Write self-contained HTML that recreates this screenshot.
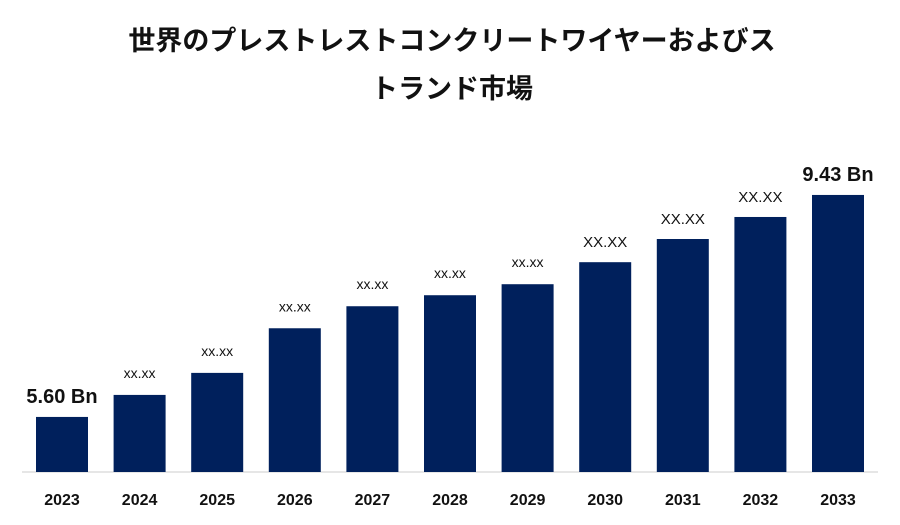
<!DOCTYPE html>
<html><head><meta charset="utf-8"><style>
body{margin:0;background:#fff;}
svg{display:block;font-family:"Liberation Sans","Noto Sans CJK JP",sans-serif;}
</style></head><body>
<svg width="900" height="525" viewBox="0 0 900 525">
<text x="452" y="50" text-anchor="middle" font-size="27" font-weight="bold" fill="#111">世界のプレストレストコンクリートワイヤーおよびス</text>
<text x="452" y="98" text-anchor="middle" font-size="27" font-weight="bold" fill="#111">トランド市場</text>
<line x1="22" y1="472" x2="878" y2="472" stroke="#ccc" stroke-width="1"/>
<g id="bars"></g>
</svg>
<script>
const categories=["2023","2024","2025","2026","2027","2028","2029","2030","2031","2032","2033"];
const values=[5.60,5.98,6.36,7.13,7.51,7.70,7.89,8.27,8.67,9.05,9.43];
const valueLabels=["5.60 Bn","xx.xx","xx.xx","xx.xx","xx.xx","xx.xx","xx.xx","XX.XX","XX.XX","XX.XX","9.43 Bn"];
const ns="http://www.w3.org/2000/svg";
const g=document.getElementById("bars");
const base=472,vmin=4.65,k=57.96;
function yPos(v){return base-(v-vmin)*k;}
function xPos(i){return 36+i*77.6;}
const bw=52;
categories.forEach((c,i)=>{
  const y=yPos(values[i]);
  const r=document.createElementNS(ns,"rect");
  r.setAttribute("x",xPos(i));r.setAttribute("y",y);
  r.setAttribute("width",bw);r.setAttribute("height",base-y);
  r.setAttribute("fill","#00205c");
  
  
  g.appendChild(r);
  const t=document.createElementNS(ns,"text");
  t.setAttribute("x",xPos(i)+bw/2);t.setAttribute("y",505);
  t.setAttribute("text-anchor","middle");t.setAttribute("font-size","16");
  t.setAttribute("font-weight","bold");t.setAttribute("fill","#111");
  t.textContent=c;
  
  
  g.appendChild(t);
  const l=document.createElementNS(ns,"text");
  const lbl=valueLabels[i];
  const big=lbl.indexOf("Bn")>=0;
  const caps=lbl==="XX.XX";
  l.setAttribute("x",xPos(i)+bw/2);
  l.setAttribute("y",y-(big?14:caps?15:17));
  l.setAttribute("text-anchor","middle");
  l.setAttribute("font-size",big?"20":caps?"15":"14");
  if(big)l.setAttribute("font-weight","bold");
  l.setAttribute("fill","#111");
  l.textContent=lbl;
  
  
  g.appendChild(l);
});
</script>
</body></html>
